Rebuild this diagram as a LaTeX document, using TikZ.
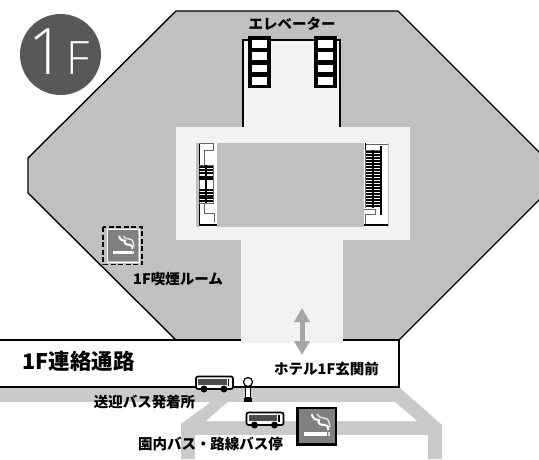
\documentclass[tikz,border=0pt]{standalone}
\usepackage{fontspec}
\setmainfont{Noto Sans CJK JP}
\newfontfamily\thinfont{Open Sans Light}
\usetikzlibrary{arrows.meta,positioning}
\definecolor{floorgray}{HTML}{BFC1C0}
\definecolor{hallgray}{HTML}{F2F2F2}
\definecolor{roadgray}{HTML}{C9CACA}
\definecolor{badgegray}{HTML}{595757}
\definecolor{icongray}{HTML}{808080}
\tikzstyle{label} = [inner sep=0pt, font=\bfseries\fontsize{14.5}{16}\selectfont, text=black]
\tikzstyle{wall} = [black, line width=1.4pt]
\tikzstyle{thinstair} = [black!60, line width=0.8pt]
\tikzstyle{tread} = [black, line width=1.2pt]
\tikzstyle{updown} = [{Triangle[width=15pt,length=14pt]}-{Triangle[width=15pt,length=14pt]}, line width=5pt, black!35]
\tikzset{
  bus/.pic={
    \draw[fill=white, line width=1.7pt, rounded corners=2pt] (0,0) rectangle (37,12.5);
    \draw[fill=white, black!70, line width=1.4pt] (3,3) rectangle (30,7.5);
    \draw[black, line width=1.2pt] (32.5,2) -- (32.5,9);
    \fill (8,12.5) circle (3.5);
    \fill (28,12.5) circle (3.5);
  },
  smoke/.pic={
    \draw[white, line width=2pt] (15,7) .. controls (15,11) and (18,13) .. (22,13) .. controls (20,17) and (24,18) .. (28,18) .. controls (31,19) and (32,21) .. (31,23);
    \draw[white!75!gray, line width=1.5pt] (20,7) .. controls (21,10) and (24,11) .. (27,11) .. controls (30,11) and (32,13) .. (32,15) -- (33,20);
    \fill[white] (7,25) rectangle (30,29);
    \fill[white!70!gray] (30.5,25) rectangle (33,29);
  }
}

\begin{document}
\begin{tikzpicture}[x=1pt,y=-1pt]
  \useasboundingbox (0,0) rectangle (539,459);

  % building
  \draw[wall, fill=floorgray] (176,11) -- (398,11) -- (546,159) -- (546,193) -- (399,340) -- (176,340) -- (28,193) -- (28,158) -- cycle;

  % road
  \fill[roadgray] (0,387) -- (399,387) -- (442,425) -- (442,459) -- (428,459) -- (428,435) -- (195,435) -- (195,459) -- (181,459) -- (181,424) -- (211,402) -- (0,402) -- cycle;
  \fill[white] (228,402) -- (395,402) -- (417,421) -- (206,421) -- cycle;

  % connecting passage
  \fill[white] (0,341) rectangle (399,387);
  \draw[wall] (399,340) -- (399,387) -- (0,387);
  \draw[wall] (0,340) -- (399,340);

  % halls
  \draw[wall, fill=hallgray] (243,130) -- (243,40) -- (340,40) -- (340,130);
  \fill[hallgray] (176,127) rectangle (410,240);
  \fill[hallgray] (241,240) rectangle (343,343);
  \fill[floorgray] (217,143) rectangle (364,227);

  % elevators
  \foreach \x in {248,314} {
    \fill[black] (\x,36) rectangle +(23,52);
    \foreach \y in {40,52,64.5,77}
      \fill[white] (\x+4,\y) rectangle +(15,7.5);
  }

  % left stairs
  \fill[white] (196,143) rectangle (217,227);
  \fill[black!25] (196,143) rectangle (199,227);
  \draw[black, line width=1pt] (199,143) -- (199,226);
  \draw[thinstair] (199,143) -- (213,143) -- (213,150) -- (204,150) -- (204,165);
  \draw[thinstair] (199,165) rectangle (213,203);
  \draw[thinstair] (204,203) -- (204,213) -- (214,213) -- (214,222);
  \foreach \y in {167,170,173,177,179,190,193,196,198,201}
    \draw[tread] (199,\y) -- (213,\y);
  \draw[tread] (206,165) -- (206,203);
  \draw[black, line width=2pt] (199,225) -- (217,225);

  % right stairs
  \fill[white] (364,143) rectangle (388,227);
  \draw[black!25, line width=1pt] (388.5,143) -- (388.5,227);
  \draw[thinstair] (365,144) -- (388,144);
  \draw[thinstair] (365,150) -- (381,150);
  \draw[black, line width=1pt] (365,143) -- (365,150);
  \draw[thinstair] (365,150) -- (365,208);
  \foreach \y in {152,155,...,207}
    \draw[tread] (366,\y) -- (381,\y);
  \draw[tread] (373,150) -- (373,208);
  \draw[black, line width=1.2pt] (381,146) -- (381,215);
  \draw[thinstair] (364,209) -- (375,209) -- (375,214) -- (365,214) -- (365,224);
  \draw[black, line width=2pt] (364,225) -- (388,225);

  % badge
  \node[circle, fill=badgegray, minimum size=81pt, inner sep=0pt] (badge) at (60.5,54.5) {};
  \node[inner sep=0pt, text=white, font=\thinfont\fontsize{64}{64}\selectfont] (badgeone) at (47,52) {1};
  \node[inner sep=0pt, text=white, font=\thinfont\fontsize{46}{46}\selectfont] (badgef) at (78,58.5) {F};

  % smoking room
  \fill[icongray] (108,230) rectangle (138,261);
  \draw[white, line width=1pt] (107,229) rectangle (139,262);
  \draw[black, line width=1.5pt, dash pattern=on 5pt off 2.5pt] (103,227) rectangle (142,264.5);
  \pic[scale=0.82] at (107,230) {smoke};

  % bus stop icon
  \fill[white] (195,435) rectangle (428,459);
  \draw[black, line width=2.2pt, fill=icongray] (297.5,408) rectangle (336,444.5);
  \pic at (297,407) {smoke};

  % buses
  \pic at (196,376.5) {bus};
  \pic at (246.5,412.5) {bus};

  % pole
  \draw[fill=white, line width=1.2pt] (248,382) circle (4.5);
  \draw[fill=white, line width=1.2pt] (245.5,387) rectangle (250.5,398);
  \fill (244,398) rectangle (252,402);

  % arrow
  \coordinate (arrowtop) at (302,308);
  \coordinate (arrowbot) at (302,355);
  \draw[updown] (arrowtop) -- (arrowbot);

  % labels
  \node[label] (elevator) at (292,24) {エレベーター};
  \node[label] (smokeroom) at (178,279) {1F喫煙ルーム};
  \node[label, font=\bfseries\fontsize{21.5}{23}\selectfont] (passage) at (78.5,361) {1F連絡通路};
  \node[label] (entrance) at (326.5,369) {ホテル1F玄関前};
  \node[label] (pickup) at (144.5,402) {送迎バス発着所};
  \node[label] (busstop) at (210.5,444) {園内バス・路線バス停};
\end{tikzpicture}
\end{document}
